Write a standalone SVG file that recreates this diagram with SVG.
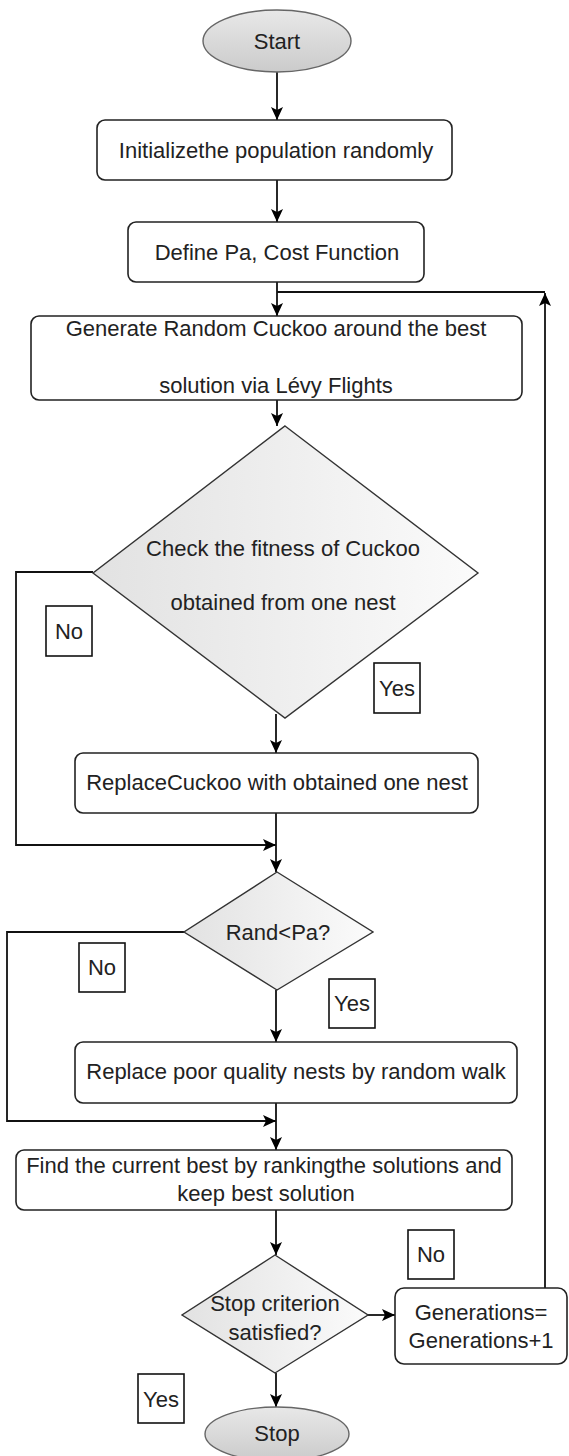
<svg xmlns="http://www.w3.org/2000/svg" width="569" height="1456" viewBox="0 0 569 1456">
<defs>
<linearGradient id="gEll" x1="0" y1="0" x2="0" y2="1">
<stop offset="0" stop-color="#e8e8e8"/><stop offset="1" stop-color="#cbcbcb"/>
</linearGradient>
<linearGradient id="gDia" x1="0" y1="0" x2="1" y2="0">
<stop offset="0" stop-color="#e2e2e2"/><stop offset="1" stop-color="#fbfbfb"/>
</linearGradient>
<marker id="arr" markerUnits="userSpaceOnUse" markerWidth="14" markerHeight="12" refX="13" refY="6" orient="auto">
<path d="M0,0 L13,6 L0,12 L3,6 Z" fill="#000"/>
</marker>
<style>
text{font-family:"Liberation Sans",Arial,sans-serif;font-size:22px;fill:#222;text-anchor:middle}
.box{fill:#fff;stroke:#222;stroke-width:1.6}
.ell{fill:url(#gEll);stroke:#666;stroke-width:1.4}
.dia{fill:url(#gDia);stroke:#333;stroke-width:1.4}
.lbl{fill:#fff;stroke:#111;stroke-width:1.6}
.con{fill:none;stroke:#111;stroke-width:1.8}
.arw{marker-end:url(#arr)}
</style>
</defs>
<g id="connectors">
<path class="con arw" d="M277,72 V120"/>
<path class="con arw" d="M277,180 V222"/>
<path class="con arw" d="M277,282 V316"/>
<path class="con" d="M277,292 H545"/>
<path class="con arw" d="M545,1292 V293"/>
<path class="con arw" d="M277,400 V426"/>
<path class="con arw" d="M276,714 V753"/>
<path class="con arw" d="M93,572 H16 V845 H276"/>
<path class="con arw" d="M276,813 V872"/>
<path class="con arw" d="M276,990 V1042"/>
<path class="con arw" d="M184,932 H7 V1121 H276"/>
<path class="con arw" d="M276,1103 V1150"/>
<path class="con arw" d="M276,1210 V1255"/>
<path class="con arw" d="M368,1315 H395"/>
<path class="con arw" d="M276,1373 V1407"/>
</g>
<g id="start"><ellipse class="ell" cx="277" cy="41" rx="74" ry="31"/><text x="277" y="49">Start</text></g>
<g id="init"><rect class="box" x="97" y="120" width="355" height="60" rx="8"/><text x="276" y="158">Initializethe population randomly</text></g>
<g id="define"><rect class="box" x="128" y="222" width="296" height="60" rx="8"/><text x="277" y="260">Define Pa, Cost Function</text></g>
<g id="generate"><rect class="box" x="31" y="316" width="491" height="84" rx="8"/><text x="276" y="336">Generate Random Cuckoo around the best</text><text x="276" y="393">solution via Lévy Flights</text></g>
<g id="check"><polygon class="dia" points="285,426 478,573 285,718 93,573"/><text x="283" y="556">Check the fitness of Cuckoo</text><text x="283" y="610">obtained from one nest</text></g>
<g id="no1"><rect class="lbl" x="46" y="606" width="46" height="50"/><text x="69" y="639">No</text></g>
<g id="yes1"><rect class="lbl" x="374" y="663" width="46" height="50"/><text x="397" y="696">Yes</text></g>
<g id="replace1"><rect class="box" x="75" y="753" width="403" height="60" rx="8"/><text x="277" y="790">ReplaceCuckoo with obtained one nest</text></g>
<g id="rand"><polygon class="dia" points="277,872 373,932 277,990 184,932"/><text x="278" y="940">Rand&lt;Pa?</text></g>
<g id="no2"><rect class="lbl" x="79" y="943" width="46" height="49"/><text x="102" y="975">No</text></g>
<g id="yes2"><rect class="lbl" x="329" y="979" width="46" height="49"/><text x="352" y="1011">Yes</text></g>
<g id="replace2"><rect class="box" x="75" y="1042" width="442" height="61" rx="8"/><text x="296" y="1079">Replace poor quality nests by random walk</text></g>
<g id="find"><rect class="box" x="16" y="1150" width="496" height="60" rx="8"/><text x="264" y="1173">Find the current best by rankingthe solutions and</text><text x="266" y="1201">keep best solution</text></g>
<g id="no3"><rect class="lbl" x="408" y="1230" width="46" height="49"/><text x="431" y="1262">No</text></g>
<g id="stopcrit"><polygon class="dia" points="275,1255 368,1315 275,1373 182,1315"/><text x="275" y="1311">Stop criterion</text><text x="275" y="1340">satisfied?</text></g>
<g id="gen"><rect class="box" x="395" y="1288" width="172" height="76" rx="9"/><text x="481" y="1320">Generations=</text><text x="481" y="1348">Generations+1</text></g>
<g id="yes3"><rect class="lbl" x="138" y="1374" width="46" height="49"/><text x="161" y="1407">Yes</text></g>
<g id="stop"><ellipse class="ell" cx="277" cy="1434" rx="72" ry="27"/><text x="277" y="1441">Stop</text></g>
</svg>
